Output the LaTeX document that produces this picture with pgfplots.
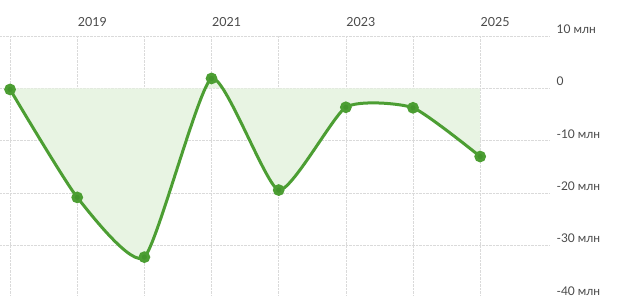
\documentclass[border=0pt]{standalone}
\usepackage{pgfplots}
\pgfplotsset{compat=1.18}
\usepgfplotslibrary{fillbetween}
\usepackage{fontspec}
\setmainfont{Lato}
\definecolor{lineg}{HTML}{4C9E33}
\definecolor{markg}{HTML}{43952C}
\definecolor{fillg}{HTML}{E8F4E3}
\definecolor{gridc}{HTML}{DADADA}
\definecolor{labc}{HTML}{4A4A4A}
\begin{document}
\begin{tikzpicture}
\begin{axis}[
  at={(0pt,-3pt)}, anchor=south west,
  scale only axis, width=550pt, height=262pt,
  xmin=-0.15, xmax=8.04, ymin=-40, ymax=10,
  axis line style={draw=none}, tick style={draw=none},
  major tick length=0pt,
  grid=major, grid style={densely dotted, gridc, line width=0.7pt},
  xtick={0,...,7}, xticklabels={,2019,,2021,,2023,,2025},
  xticklabel pos=upper,
  xticklabel style={anchor=south west, xshift=-3pt, yshift=6pt, font=\fontsize{12.5}{14}\selectfont, text=labc},
  ytick={-40,-30,...,10},
  yticklabels={{-40 млн},{-30 млн},{-20 млн},{-10 млн},{0},{10 млн}},
  yticklabel pos=right,
  yticklabel style={anchor=south west, xshift=3pt, yshift=-1pt, font=\fontsize{12}{14}\selectfont, text=labc},
]
\addplot[name path=curve, draw=none, smooth, tension=0.33] coordinates {
 (0,-0.2) (1,-20.8) (2,-32.2) (3,1.9) (4,-19.4) (5,-3.6) (6,-3.7) (7,-13.0)
};
\addplot[name path=zero, draw=none] coordinates {(0,0) (7,0)};
\addplot[fillg] fill between[of=curve and zero];
\addplot[lineg, line width=3pt, smooth, tension=0.33, mark=*, mark size=4.3pt,
  mark options={fill=markg, draw=none}, clip=false] coordinates {
 (0,-0.2) (1,-20.8) (2,-32.2) (3,1.9) (4,-19.4) (5,-3.6) (6,-3.7) (7,-13.0)
};
\end{axis}
\pgfresetboundingbox
\path[use as bounding box] (0pt,0pt) rectangle (621pt,295pt);
\end{tikzpicture}
\end{document}
